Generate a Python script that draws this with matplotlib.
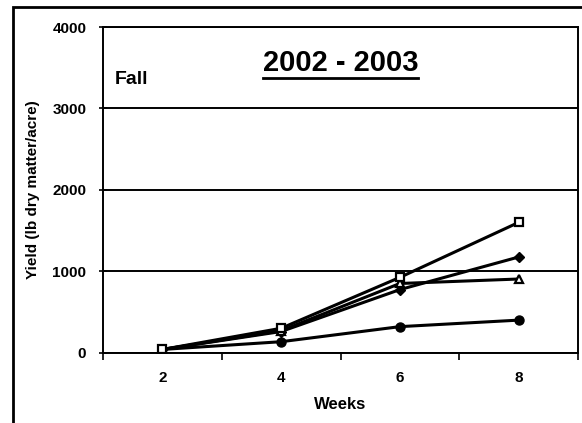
import matplotlib
matplotlib.use('Agg')
import matplotlib.pyplot as plt
from matplotlib.patches import Rectangle
from matplotlib.lines import Line2D

plt.rcParams['font.family'] = ['Liberation Sans', 'DejaVu Sans']
plt.rcParams['font.weight'] = 'bold'

# Yield data (lb dry matter/acre)
weeks = [2, 4, 6, 8]
yield_square = [40, 300, 925, 1600]
yield_diamond = [40, 260, 775, 1175]
yield_triangle = [40, 270, 850, 905]
yield_circle = [40, 135, 320, 400]

fig = plt.figure(figsize=(5.82, 4.23), dpi=100)
ax = fig.add_axes([103 / 582, 70.3 / 423, 475 / 582, 325.7 / 423])

lw = 2.2
ax.plot(weeks, yield_circle, color='black', lw=lw, marker='o', ms=6.5,
        mfc='black', mec='black')
ax.plot(weeks, yield_diamond, color='black', lw=lw, marker='D', ms=5.5,
        mfc='black', mec='black')
ax.plot(weeks, yield_triangle, color='black', lw=lw, marker='^', ms=6,
        mfc='white', mec='black', mew=1.6)
ax.plot(weeks, yield_square, color='black', lw=lw, marker='s', ms=5.5,
        mfc='white', mec='black', mew=1.6)

ax.set_xlim(1, 9)
ax.set_ylim(0, 4000)
ax.set_xticks(weeks)
ax.set_xticks([1, 3, 5, 7, 9], minor=True)
ax.set_yticks([0, 1000, 2000, 3000, 4000])
ax.tick_params(axis='x', which='major', length=0, pad=13, labelsize=11)
ax.tick_params(axis='x', which='minor', length=5, width=1.2, direction='out')
ax.tick_params(axis='y', length=6, width=1.2, direction='inout', pad=9, labelsize=11)
for lbl in ax.get_xticklabels() + ax.get_yticklabels():
    lbl.set_fontweight('bold')

ax.grid(axis='y', color='black', lw=1.4)
for sp in ax.spines.values():
    sp.set_linewidth(1.4)

ax.set_xlabel('Weeks', fontsize=12, fontweight='bold', labelpad=9)
ax.set_ylabel('Yield (lb dry matter/acre)', fontsize=11, fontweight='bold', labelpad=9)

ax.text(0.025, 0.84, 'Fall', transform=ax.transAxes, fontsize=14,
        fontweight='bold', ha='left', va='center')
title = ax.text(0.5, 0.89, '2002 - 2003', transform=ax.transAxes, fontsize=21,
                fontweight='bold', ha='center', va='center')

# underline the title
fig.canvas.draw()
bb = title.get_window_extent().transformed(fig.transFigure.inverted())
fig.add_artist(Line2D([bb.x0, bb.x1], [bb.y0 - 0.002, bb.y0 - 0.002],
                      transform=fig.transFigure, color='black', lw=2.0))

# outer frame
fig.add_artist(Rectangle((13 / 582, -0.05), 1.2, (423 - 7) / 423 + 0.05,
                         transform=fig.transFigure, fill=False,
                         edgecolor='black', lw=2.0))

plt.savefig('out.png', dpi=100)
